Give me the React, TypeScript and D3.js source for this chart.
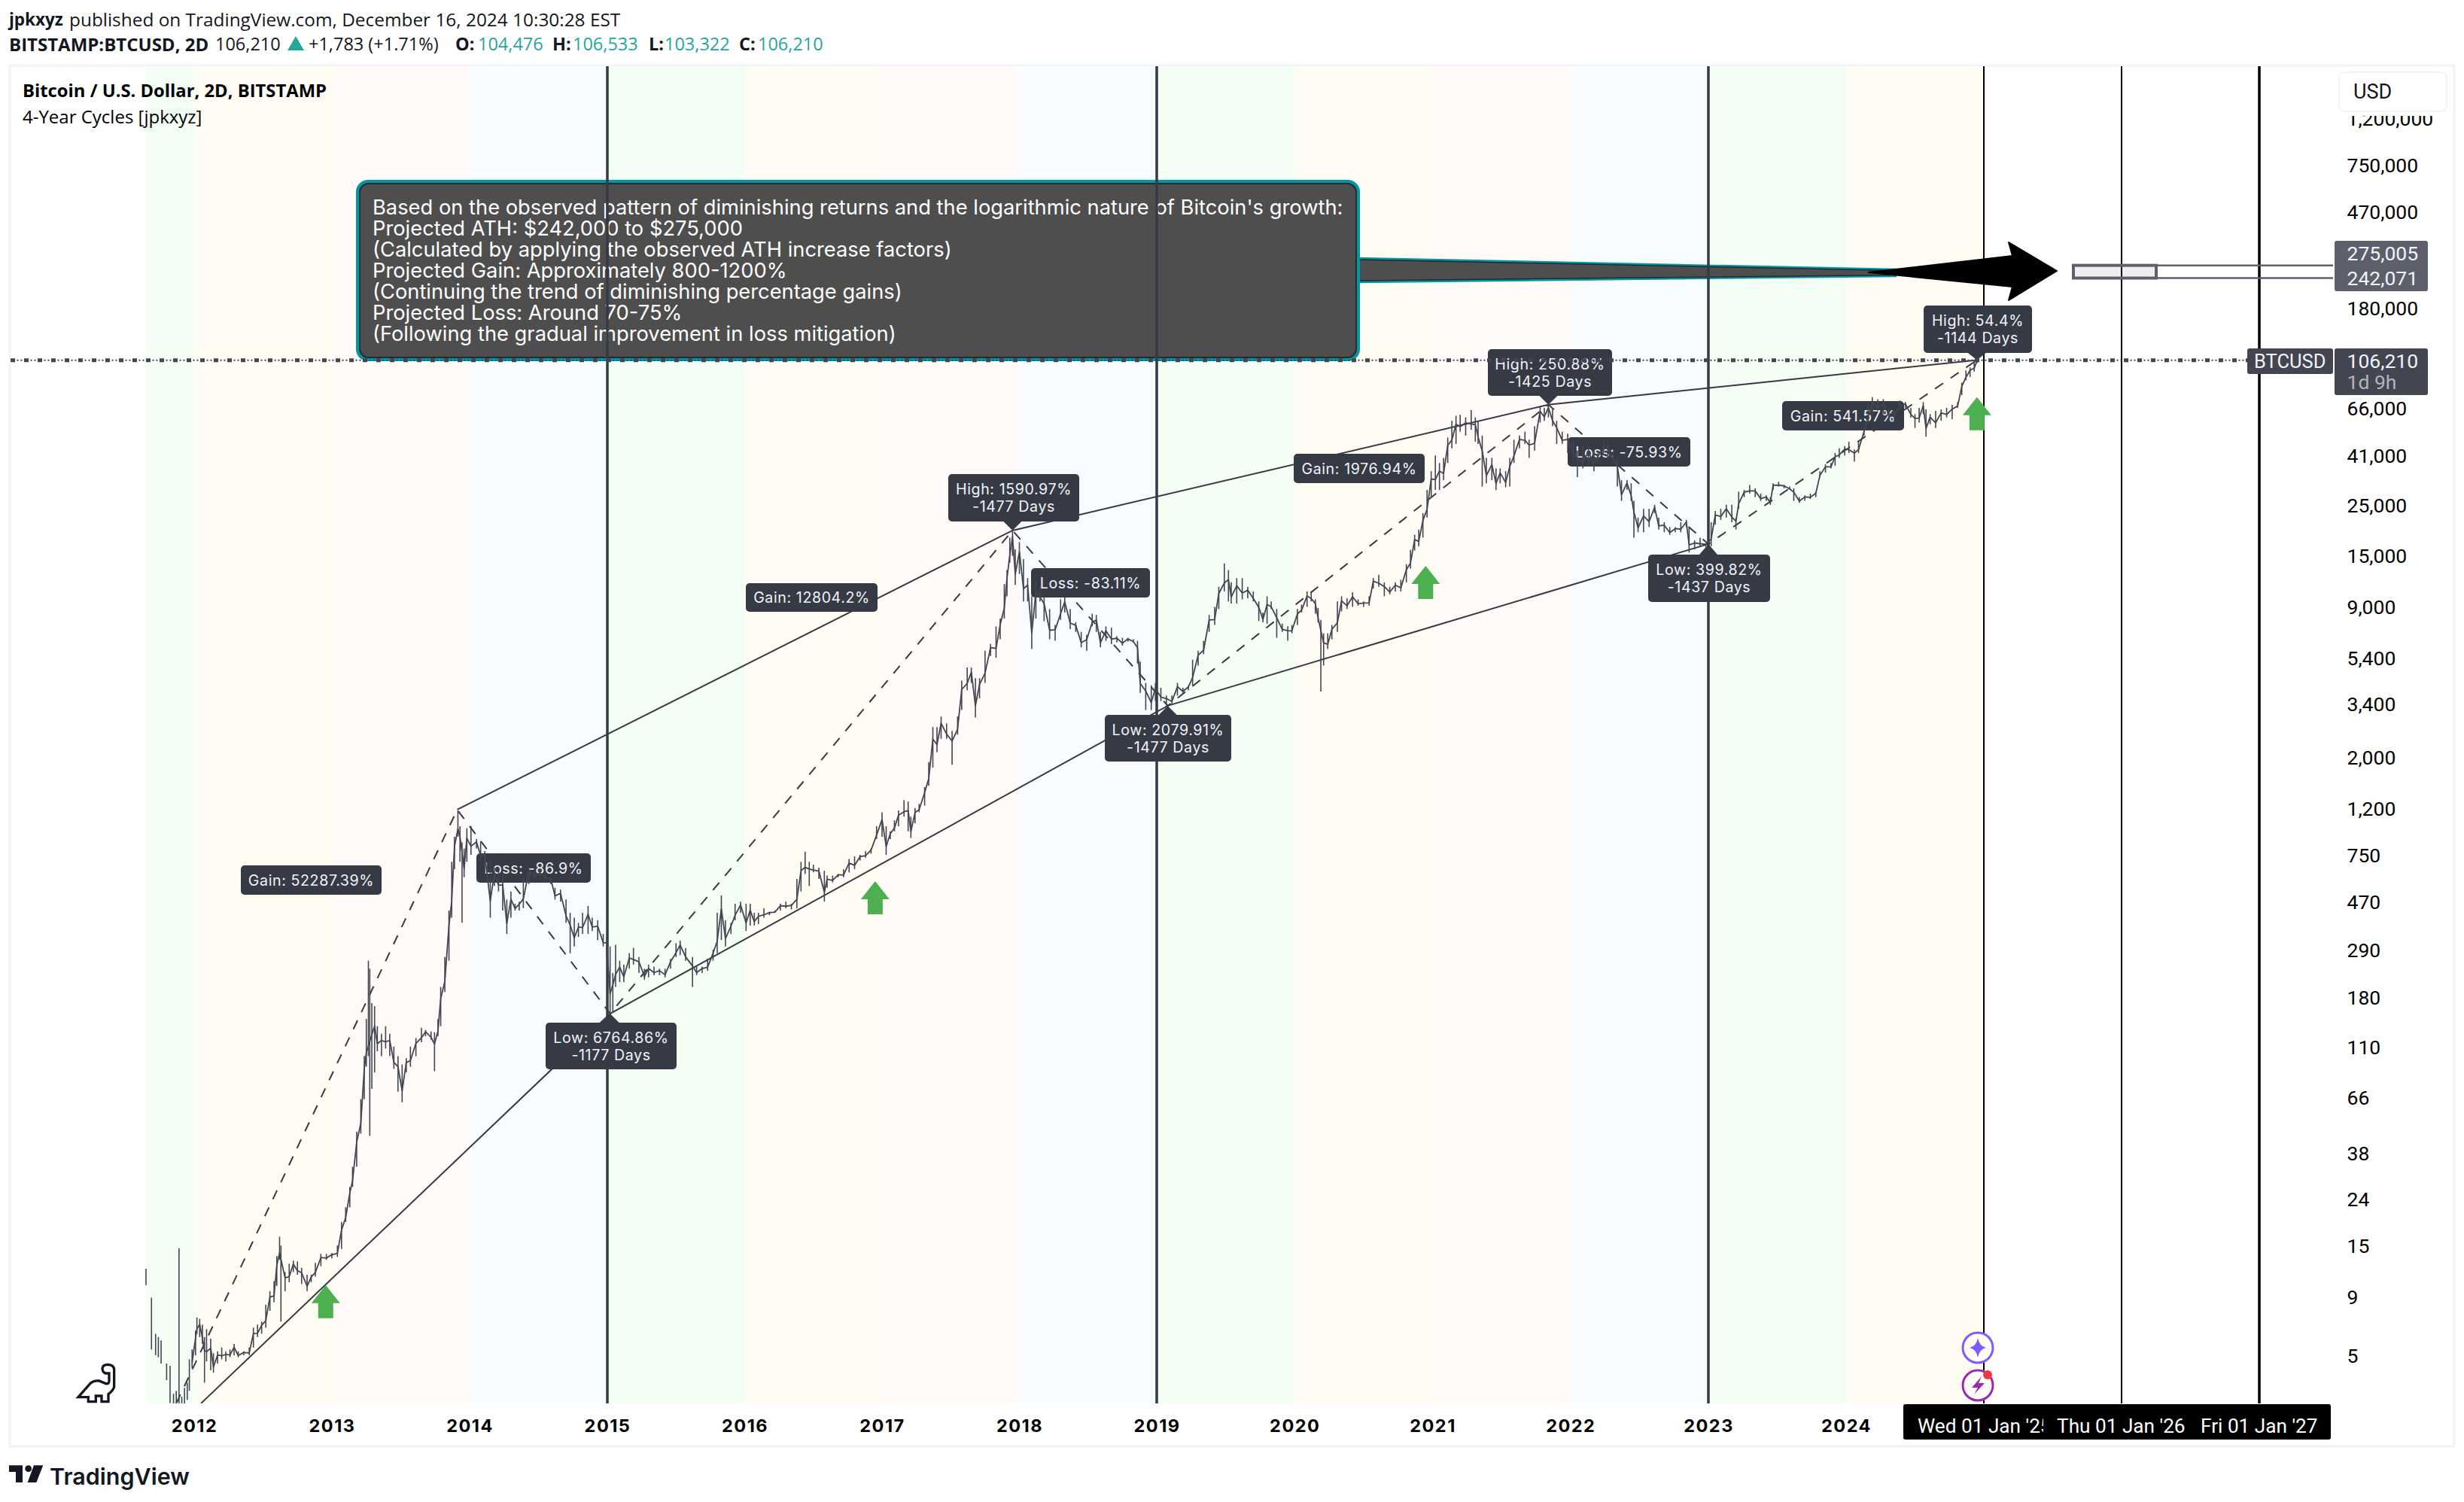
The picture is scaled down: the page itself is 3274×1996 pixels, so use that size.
import * as d3 from 'd3';
import { useEffect, useRef } from 'react';

// [decimal year, low, high]
const cycle2011: number[][] = [
  [2011.65,10.1,11.9],[2011.69,5.3,8.9],[2011.72,5.0,6.2],[2011.74,4.9,6.0],[2011.76,4.6,5.8],[2011.80,3.9,4.6],
  [2011.825,3.1,4.5],[2011.85,3.0,3.4],[2011.87,3.0,3.5],[2011.89,3.0,14.6],[2011.91,3.0,3.3],[2011.93,3.0,3.6],
  [2011.95,3.2,3.8],[2011.965,3.5,4.8],[2011.985,4.4,5.3],[2012.01,5.0,6.4],[2012.02,6.2,7.3],[2012.04,6.0,7.2],
  [2012.06,5.6,6.8],[2012.075,3.8,6.0],[2012.09,4.7,6.5],[2012.12,4.3,5.9],[2012.14,4.2,5.1],[2012.17,4.6,5.2],
  [2012.2,4.8,5.4],[2012.23,4.7,5.2],[2012.26,4.9,5.3],[2012.29,5.0,5.6],[2012.32,4.9,5.2],[2012.36,5.0,5.2],
  [2012.4,5.0,5.4],[2012.43,5.4,6.6],[2012.46,6.0,6.8],[2012.49,6.2,7.0],[2012.52,6.6,8.3],[2012.55,7.8,9.5],
  [2012.58,8.5,10.5],[2012.6,10,13.5],[2012.62,13,16.4],[2012.63,7,15],[2012.66,9.5,11.5],[2012.69,10.4,12.5],
  [2012.72,11.5,12.9],[2012.75,11.2,12.8],[2012.78,10.2,12],[2012.82,9.5,11.2],[2012.85,10.4,11.2],[2012.88,11,12.6],
  [2012.92,12.2,13.8],[2012.96,13,13.8],[2013.0,13.2,13.9],[2013.04,13.4,15],[2013.07,14.5,19],[2013.1,19,22],
  [2013.13,22,27],[2013.15,27,33],[2013.18,33,47],[2013.21,46,65],[2013.235,65,100],[2013.25,90,145],[2013.265,100,260],
  [2013.275,45,240],[2013.29,72,170],[2013.31,85,165],[2013.33,105,135],[2013.36,100,125],[2013.39,108,135],
  [2013.42,100,125],[2013.45,88,110],[2013.48,70,100],[2013.51,63,92],[2013.54,85,98],[2013.57,90,110],[2013.61,100,120],
  [2013.65,115,133],[2013.68,122,130],[2013.72,118,128],[2013.745,86,127],[2013.77,122,145],[2013.79,135,200],
  [2013.82,190,270],[2013.85,260,430],[2013.87,400,700],[2013.89,650,900],[2013.915,900,1170],[2013.93,700,1000],
  [2013.945,380,850],[2013.96,600,800],[2013.98,700,980],[2014.01,750,1000],[2014.05,800,880],[2014.08,700,860],
  [2014.11,680,780],[2014.15,400,700],[2014.18,550,660],[2014.21,520,640],[2014.24,430,620],[2014.27,340,480],
  [2014.30,400,520],[2014.33,430,460],[2014.36,430,470],[2014.39,440,600],[2014.43,560,670],[2014.47,590,640],
  [2014.51,580,650],[2014.55,580,630],[2014.59,560,600],[2014.62,480,540],[2014.66,470,530],[2014.7,380,480],
  [2014.73,280,420],[2014.76,300,400],[2014.79,330,380],[2014.82,340,420],[2014.86,340,450],[2014.89,350,400],
  [2014.93,320,390],[2014.97,300,340],[2014.995,270,330],
];

const cycle2015: number[][] = [
  [2015.02,152,300],[2015.04,155,230],[2015.06,200,305],[2015.09,210,260],[2015.12,210,250],[2015.16,240,280],
  [2015.19,250,296],[2015.23,230,270],[2015.27,215,240],[2015.3,220,250],[2015.34,225,245],[2015.38,225,240],
  [2015.42,220,240],[2015.46,240,265],[2015.5,270,310],[2015.53,275,318],[2015.57,260,295],[2015.62,200,270],
  [2015.65,225,245],[2015.69,230,245],[2015.73,235,265],[2015.77,260,290],[2015.8,280,420],[2015.83,320,500],
  [2015.86,300,390],[2015.9,340,380],[2015.93,390,460],[2015.97,420,470],[2016.01,350,460],[2016.04,370,460],
  [2016.07,370,420],[2016.1,375,420],[2016.14,400,440],[2016.18,410,425],[2016.22,420,430],[2016.26,430,460],
  [2016.3,440,470],[2016.34,435,460],[2016.38,440,590],[2016.41,520,700],[2016.44,620,775],[2016.47,550,700],
  [2016.5,630,680],[2016.54,590,660],[2016.58,470,640],[2016.6,540,610],[2016.64,570,610],[2016.68,600,620],
  [2016.72,600,650],[2016.76,630,720],[2016.8,650,740],[2016.84,710,750],[2016.88,730,780],[2016.92,760,800],
  [2016.96,880,1000],[2017.0,900,1150],[2017.03,750,1000],[2017.06,880,950],[2017.09,950,1060],[2017.12,1000,1170],
  [2017.16,1100,1300],[2017.19,950,1280],[2017.21,890,1100],[2017.24,1030,1200],[2017.27,1150,1250],[2017.31,1230,1480],
  [2017.34,1500,1900],[2017.37,1800,2700],[2017.4,2100,2700],[2017.43,2400,3000],[2017.47,2400,2800],[2017.51,1850,2600],
  [2017.55,2500,3000],[2017.58,3200,4300],[2017.62,3900,4900],[2017.65,4200,4900],[2017.68,2970,4400],[2017.71,3600,4400],
  [2017.75,4200,5800],[2017.79,5500,6200],[2017.83,5400,7400],[2017.86,6500,8000],[2017.89,8000,11300],[2017.91,10000,13000],
  [2017.93,14000,18000],[2017.95,15000,19660],[2017.97,11200,16000],[2018.0,12500,17200],[2018.03,9500,14500],
  [2018.06,9500,12000],[2018.09,5900,10000],[2018.12,8000,11700],[2018.15,9500,11000],[2018.18,7800,10000],
  [2018.22,6500,8800],[2018.26,6400,7500],[2018.3,7900,9700],[2018.33,8500,9900],[2018.37,7200,8800],[2018.41,7000,7700],
  [2018.45,6000,7000],[2018.49,5800,6800],[2018.53,7400,8400],[2018.56,7000,8300],[2018.59,6000,7000],[2018.63,6400,7400],
  [2018.67,6200,7300],[2018.71,6300,6700],[2018.75,6100,6600],[2018.79,6350,6600],[2018.83,6300,6500],[2018.86,5100,6400],
  [2018.88,3800,5200],[2018.92,3200,4200],[2018.96,3200,4100],
];

const cycle2019: number[][] = [
  [2018.99,3500,4200],[2019.03,3500,4000],[2019.07,3350,3700],[2019.11,3400,3700],[2019.15,3700,4200],[2019.19,3800,4000],
  [2019.23,3900,4100],[2019.26,4100,5300],[2019.3,5000,5800],[2019.34,5600,6400],[2019.38,7000,8300],[2019.42,7500,9000],
  [2019.45,8800,11000],[2019.49,10500,13900],[2019.52,9500,13000],[2019.54,9300,11500],[2019.58,9300,12000],
  [2019.62,9700,12000],[2019.66,9800,11000],[2019.7,9500,10500],[2019.74,7800,9500],[2019.77,7700,8500],[2019.8,7600,10000],
  [2019.83,8800,9500],[2019.87,6600,8800],[2019.91,7000,7600],[2019.95,6400,7400],[2019.98,6900,7500],[2020.02,7500,8800],
  [2020.05,8500,9200],[2020.09,9000,10500],[2020.12,9500,10500],[2020.15,8400,9700],[2020.17,7700,8900],[2020.19,3850,7900],
  [2020.21,5000,6900],[2020.24,5900,6900],[2020.27,6500,7500],[2020.31,7000,9500],[2020.34,8600,10000],[2020.38,8800,9800],
  [2020.42,9000,10400],[2020.46,9100,9700],[2020.5,9000,9500],[2020.54,9100,10000],[2020.57,10800,12000],[2020.61,11000,12400],
  [2020.65,10000,11500],[2020.69,10200,11000],[2020.73,10500,11500],[2020.77,10500,11800],[2020.81,11500,13800],
  [2020.84,13200,15900],[2020.87,15800,18500],[2020.9,16500,19500],[2020.93,18000,23000],[2020.96,22000,29000],
  [2020.99,27000,35000],[2021.02,29000,41000],[2021.05,29000,38000],[2021.08,32000,40000],[2021.11,38000,49000],
  [2021.14,44000,58000],[2021.17,46000,61000],[2021.2,52000,61500],[2021.24,50000,60000],[2021.28,53000,64500],
  [2021.31,47000,60000],[2021.33,46000,58000],[2021.36,30000,50000],[2021.39,31000,40000],[2021.43,32000,40000],
  [2021.46,29000,36000],[2021.49,31000,36000],[2021.53,29800,35000],[2021.56,30000,40000],[2021.59,38000,48000],
  [2021.63,44000,50000],[2021.67,46000,52000],[2021.7,40000,48000],[2021.74,43000,55000],[2021.78,57000,67000],
  [2021.81,58000,66000],[2021.84,60000,69000],[2021.87,55000,66000],[2021.9,46000,58000],[2021.94,46000,52000],
  [2021.98,42000,51000],[2022.02,40000,47000],[2022.05,33000,43000],[2022.09,36000,45000],[2022.13,37000,45000],
  [2022.17,35000,44000],[2022.2,38000,42000],[2022.24,42000,48000],[2022.27,39000,47000],[2022.31,38000,42000],
  [2022.34,30000,40000],[2022.37,26000,32000],[2022.41,29000,32000],[2022.44,26000,31000],[2022.46,18000,26000],
  [2022.49,19000,22000],[2022.53,19000,24000],[2022.57,20000,24000],[2022.61,23000,25000],[2022.64,19500,22000],
  [2022.68,19000,21000],[2022.72,18500,20000],[2022.76,19000,20000],[2022.8,19000,21000],[2022.84,20000,21500],
  [2022.86,15500,20000],[2022.9,16000,17500],[2022.94,16500,18000],[2022.98,16400,17000],
];

const cycle2023: number[][] = [
  [2023.02,16500,21000],[2023.05,20500,23500],[2023.09,21500,24000],[2023.13,22000,25000],[2023.17,21000,25000],
  [2023.2,19500,22000],[2023.22,24000,28500],[2023.26,27000,29000],[2023.3,28000,30500],[2023.34,27000,29500],
  [2023.38,26000,28000],[2023.42,26000,27500],[2023.45,25000,27000],[2023.47,29000,31000],[2023.51,30000,31500],
  [2023.55,29500,30500],[2023.59,29000,30000],[2023.62,26000,29500],[2023.66,25500,27000],[2023.7,26000,27500],
  [2023.74,26500,28000],[2023.78,27000,28500],[2023.81,33000,35000],[2023.85,34500,37500],[2023.89,36000,38000],
  [2023.92,37000,42000],[2023.95,40000,44000],[2023.99,41000,45000],[2024.02,42000,47000],[2024.06,38500,43500],
  [2024.09,42000,47000],[2024.13,50000,53000],[2024.16,57000,69000],[2024.19,61000,73500],[2024.23,64000,72000],
  [2024.27,62000,72000],[2024.31,60000,66000],[2024.35,57000,65000],[2024.39,65000,71000],[2024.43,66000,70000],
  [2024.47,60000,66000],[2024.5,54000,62000],[2024.53,57000,66000],[2024.56,62000,70000],[2024.58,49500,65000],
  [2024.61,56000,62000],[2024.65,54000,64000],[2024.69,58000,65000],[2024.73,60000,66000],[2024.77,59000,68000],
  [2024.81,66000,70000],[2024.84,75000,85000],[2024.87,87000,96000],[2024.9,90000,99000],[2024.93,95000,106000],
  [2024.95,103322,106533],
];

// cycle pivots, in order low, high, low, ... along the dashed path
const pivotDates = [2011.87, 2013.91, 2015.02, 2017.95, 2019.08, 2021.84, 2023.0, 2024.95];
const pivotPrices = [3.09, 1180, 153, 19330, 3341, 68100, 16884, 106533];
const lowTrendDates = [2012.05, 2015.02, 2019.08, 2023.0];
const lowTrendPrices = [3.09, 153, 3341, 16884];
const highTrendDates = [2013.91, 2017.95, 2021.84, 2024.95];
const highTrendPrices = [1180, 19330, 68100, 106533];

const signalDates = [2012.955, 2016.95, 2020.95, 2024.95];
const signalPrices = [10.1, 577, 13570, 73500];

const bandYears = [2011.65, 2012, 2013, 2014, 2015, 2016, 2017, 2018, 2019, 2020, 2021, 2022, 2023, 2024];
const bandColors = ['#f3fef5', '#fffdf3', '#fffaf8', '#f9fcff'];
const cycleYears = [2015, 2019, 2023];
const futureYears = [2025, 2026, 2027];
const axisYears = [2012, 2013, 2014, 2015, 2016, 2017, 2018, 2019, 2020, 2021, 2022, 2023, 2024];
const priceTicks = [1200000, 750000, 470000, 180000, 66000, 41000, 25000, 15000, 9000, 5400, 3400, 2000, 1200, 750, 470, 290, 180, 110, 66, 38, 24, 15, 9, 5];

const lastPrice = 106210;
const targetHigh = 275005;
const targetLow = 242071;

const noteLines = [
  "Based on the observed pattern of diminishing returns and the logarithmic nature of Bitcoin's growth:",
  'Projected ATH: $242,000 to $275,000',
  '(Calculated by applying the observed ATH increase factors)',
  'Projected Gain: Approximately 800-1200%',
  '(Continuing the trend of diminishing percentage gains)',
  'Projected Loss: Around 70-75%',
  '(Following the gradual improvement in loss mitigation)',
];

const labelLines = [
  ['Gain: 52287.39%'], ['Loss: -86.9%'], ['Low: 6764.86%', '-1177 Days'],
  ['Gain: 12804.2%'], ['High: 1590.97%', '-1477 Days'], ['Loss: -83.11%'], ['Low: 2079.91%', '-1477 Days'],
  ['Gain: 1976.94%'], ['High: 250.88%', '-1425 Days'], ['Loss: -75.93%'], ['Low: 399.82%', '-1437 Days'],
  ['Gain: 541.57%'], ['High: 54.4%', '-1144 Days'],
];
// x0, y0, x1, y1 of each label, then the index of the pivot its pointer sits on
const labelBoxes = [
  [320, 1150, 507, 1189], [633, 1134, 785, 1173], [725, 1359, 899, 1421],
  [991, 775, 1166, 813], [1260, 630, 1434, 693], [1370, 755, 1528, 794], [1468, 950, 1636, 1012],
  [1719, 603, 1893, 642], [1977, 464, 2142, 526], [2083, 581, 2246, 620], [2190, 737, 2352, 800],
  [2368, 533, 2530, 572], [2556, 406, 2700, 469],
];
const labelPivots = [-1, -1, 2, -1, 3, -1, 4, -1, 5, -1, 6, -1, 7];

const INK = '#363a45';
const BAR = '#434651';
const UI = '"Open Sans", sans-serif';
const LABEL = 'Inter, sans-serif';
const AXIS = 'Roboto, sans-serif';

function BtcCycles() {
  const ref = useRef<SVGSVGElement | null>(null);

  useEffect(() => {
    if (!ref.current) return;
    const svg = d3.select(ref.current);
    svg.selectAll('*').remove();

    const x = d3.scaleLinear()
      .domain([2012, 2015, 2019, 2023, 2025, 2026, 2027])
      .range([258, 807, 1537, 2270, 2636, 2819, 3002]);
    const y = d3.scaleLog().domain([5, 66000]).range([1801, 542]);

    const plotTop = 88, plotBottom = 1865, plotRight = 3100;

    const text = (g: any, px: number, py: number, s: string, size: number, fill = '#131722', weight = 400, family = UI, anchor = 'start') =>
      g.append('text').attr('x', px).attr('y', py).attr('dominant-baseline', 'central')
        .attr('font-family', family).attr('font-size', size).attr('font-weight', weight)
        .attr('fill', fill).attr('text-anchor', anchor).text(s);

    svg.append('rect').attr('width', 3274).attr('height', 1996).attr('fill', '#ffffff');

    const defs = svg.append('defs');
    defs.append('clipPath').attr('id', 'plot').append('rect')
      .attr('x', 14).attr('y', plotTop).attr('width', plotRight - 14).attr('height', plotBottom - plotTop);
    defs.append('clipPath').attr('id', 'firstDate').append('rect')
      .attr('x', 2529).attr('y', 1866).attr('width', 186).attr('height', 47);

    // header
    text(svg, 12, 25, 'jpkxyz', 22.5, '#131722', 700);
    text(svg, 92, 25, 'published on TradingView.com, December 16, 2024 10:30:28 EST', 24.4, '#131722');
    text(svg, 12, 58, 'BITSTAMP:BTCUSD, 2D', 24, '#131722', 700);
    text(svg, 286, 58, '106,210', 23.5);
    svg.append('path').attr('d', 'M393 48L404 67H382Z').attr('fill', '#26a69a');
    text(svg, 410, 58, '+1,783 (+1.71%)', 23.5);
    const ohlc: [number, string, number, string][] = [[605, 'O:', 635, '104,476'], [734, 'H:', 761, '106,533'], [862, 'L:', 883, '103,322'], [982, 'C:', 1007, '106,210']];
    ohlc.forEach(([a, k, b, v]) => {
      text(svg, a, 58, k, 23.5, '#131722', 700);
      text(svg, b, 58, v, 23.5, '#26a69a');
    });

    // panel frame
    svg.append('rect').attr('x', 13).attr('y', 87).attr('width', 3248).attr('height', 1835)
      .attr('fill', 'none').attr('stroke', '#f0f3fa').attr('stroke-width', 3);

    // yearly colour bands
    const chart = svg.append('g').attr('clip-path', 'url(#plot)');
    chart.append('g').selectAll('rect').data(bandYears).join('rect')
      .attr('x', d => x(d))
      .attr('width', (d, i) => x(i + 1 < bandYears.length ? bandYears[i + 1] : 2025) - x(d))
      .attr('y', plotTop).attr('height', plotBottom - plotTop)
      .attr('fill', (d, i) => bandColors[i % 4]);

    // projection callout with its long tail
    const noteFill = '#363636';
    chart.append('path').attr('d', 'M1805 343L2520 358V367L1805 375Z').attr('fill', noteFill).attr('fill-opacity', 0.88);
    chart.append('path').attr('d', 'M1805 343L2520 358M1805 375L2520 367').attr('fill', 'none').attr('stroke', '#0097a7').attr('stroke-width', 2.5);
    chart.append('path').attr('d', 'M1805 345L2520 359.5M1805 373L2520 365.5').attr('fill', 'none').attr('stroke', '#1f2d30').attr('stroke-width', 1.5);
    chart.append('rect').attr('x', 475).attr('y', 241).attr('width', 1330).attr('height', 237).attr('rx', 14)
      .attr('fill', noteFill).attr('fill-opacity', 0.88).attr('stroke', '#0097a7').attr('stroke-width', 4);
    chart.append('rect').attr('x', 478).attr('y', 244).attr('width', 1324).attr('height', 231).attr('rx', 12)
      .attr('fill', 'none').attr('stroke', '#1f2d30').attr('stroke-width', 2);
    noteLines.forEach((l, i) => {
      text(chart, 495, 275 + i * 28, l, 27.3, '#ffffff', 400, LABEL);
    });

    // cycle and projection verticals
    chart.append('g').selectAll('line').data(cycleYears).join('line')
      .attr('x1', d => x(d)).attr('x2', d => x(d)).attr('y1', plotTop).attr('y2', plotBottom)
      .attr('stroke', INK).attr('stroke-width', 3.5);
    chart.append('g').selectAll('line').data(futureYears).join('line')
      .attr('x1', d => x(d)).attr('x2', d => x(d)).attr('y1', plotTop).attr('y2', plotBottom)
      .attr('stroke', '#000000').attr('stroke-width', (d, i) => i === 2 ? 3.5 : 2);

    // target range
    const yHigh = y(targetHigh), yLow = y(targetLow);
    [yHigh, yLow].forEach(v => {
      chart.append('line').attr('x1', 2865).attr('x2', 3100).attr('y1', v).attr('y2', v)
        .attr('stroke', '#5d606b').attr('stroke-width', 2.5);
    });
    chart.append('rect').attr('x', 2755).attr('y', yHigh).attr('width', 110).attr('height', yLow - yHigh)
      .attr('fill', '#787b86').attr('fill-opacity', 0.13).attr('stroke', '#5d606b').attr('stroke-width', 4);

    // black arrow
    chart.append('path').attr('d', 'M2733 360L2669 322L2674 340L2483 362L2674 381L2669 399Z').attr('fill', '#000000')
      .attr('stroke', '#000000').attr('stroke-linejoin', 'round').attr('stroke-width', 2);

    // trend lines
    const through = (ds: number[], ps: number[]) =>
      d3.line<number>().x(d => x(d)).y((d, i) => y(ps[i]))(ds) as string;
    chart.append('path').attr('d', through(lowTrendDates, lowTrendPrices)).attr('fill', 'none').attr('stroke', INK).attr('stroke-width', 2);
    chart.append('path').attr('d', through(highTrendDates, highTrendPrices)).attr('fill', 'none').attr('stroke', INK).attr('stroke-width', 2);
    chart.append('path').attr('d', through(pivotDates, pivotPrices)).attr('fill', 'none').attr('stroke', INK)
      .attr('stroke-width', 2).attr('stroke-dasharray', '13 12');

    // labels sit under the bars
    labelLines.forEach((lines, i) => {
      const [x0, y0, x1, y1] = labelBoxes[i];
      const g = chart.append('g');
      g.append('rect').attr('x', x0).attr('y', y0).attr('width', x1 - x0).attr('height', y1 - y0).attr('rx', 5).attr('fill', INK);
      const p = labelPivots[i];
      if (p >= 0) {
        const tx = x(pivotDates[p]), ty = y(pivotPrices[p]);
        const edge = ty > y1 ? y1 : y0;
        g.append('path').attr('d', `M${tx - 12} ${edge}L${tx} ${ty}L${tx + 12} ${edge}Z`).attr('fill', INK);
      }
      const cx = (x0 + x1) / 2, cy = (y0 + y1) / 2;
      lines.forEach((l, k) => {
        const off = lines.length === 2 ? (k === 0 ? -11.5 : 11.5) : 0;
        text(g, cx, cy + off, l, 19.6, '#f0f3fa', 400, LABEL, 'middle').attr('letter-spacing', 0.6);
      });
    });

    // price bars: a low-high tick per row plus a jagged stroke stepping between the rows
    const allBars = [...cycle2011, ...cycle2015, ...cycle2019, ...cycle2023];
    chart.append('g').selectAll('line').data(allBars).join('line')
      .attr('x1', d => x(d[0])).attr('x2', d => x(d[0]))
      .attr('y1', d => y(d[1])).attr('y2', d => y(d[2]))
      .attr('stroke', BAR).attr('stroke-width', 1.6);
    const spine = allBars.filter(d => d[0] > 2011.98 && d[2] / d[1] < 2);
    chart.append('path')
      .attr('d', d3.line<number[]>().x(d => x(d[0]))
        .y((d, i) => {
          const w = i % 2 === 0 ? 0.3 : 0.7;
          return y(Math.pow(d[1], 1 - w) * Math.pow(d[2], w));
        })(spine) as string)
      .attr('fill', 'none').attr('stroke', BAR).attr('stroke-width', 1.8).attr('stroke-linejoin', 'round');

    // last price line: square beads with two small dots between them
    chart.append('line').attr('x1', 14).attr('x2', 2986).attr('y1', y(lastPrice)).attr('y2', y(lastPrice))
      .attr('stroke', BAR).attr('stroke-width', 5).attr('stroke-dasharray', '6 12');
    chart.append('line').attr('x1', 14).attr('x2', 2986).attr('y1', y(lastPrice)).attr('y2', y(lastPrice))
      .attr('stroke', BAR).attr('stroke-width', 2).attr('stroke-dasharray', '2 3 2 11').attr('stroke-dashoffset', -8.5);

    // green signals
    chart.append('g').selectAll('path').data(signalDates).join('path')
      .attr('transform', (d, i) => `translate(${x(d)},${y(signalPrices[i])})`)
      .attr('d', 'M0 0L19 24H10V44H-10V24H-19Z').attr('fill', '#4caf50');

    // assistant icons
    const icons = svg.append('g');
    icons.append('circle').attr('cx', 2628).attr('cy', 1791).attr('r', 20).attr('fill', '#fffef8').attr('stroke', '#7b5cff').attr('stroke-width', 3);
    icons.append('path').attr('d', 'M2628 1778Q2630 1789 2639 1791Q2630 1793 2628 1804Q2626 1793 2617 1791Q2626 1789 2628 1778Z').attr('fill', '#7b5cff');
    icons.append('circle').attr('cx', 2628).attr('cy', 1841).attr('r', 20).attr('fill', '#fffef8').attr('stroke', '#9c27b0').attr('stroke-width', 3);
    icons.append('path').attr('d', 'M2633 1829L2620 1844H2628L2623 1853L2637 1838H2629Z').attr('fill', '#9c27b0');
    icons.append('circle').attr('cx', 2641).attr('cy', 1827).attr('r', 6).attr('fill', '#f23645');

    // dino
    const brand = svg.append('g').attr('transform', 'translate(0,1700) scale(0.3333)');
    brand.append('path')
      .attr('d', 'M312 470L360 415Q375 402 395 405L420 415Q435 420 435 405L435 375L420 375Q408 370 408 355Q410 340 430 340Q455 342 455 360L455 430Q450 445 432 458L432 488L405 488L405 465L382 465L382 488L352 488L352 470Z')
      .attr('fill', 'none').attr('stroke', '#131722').attr('stroke-width', 10);
    // logo
    brand.append('path').attr('d', 'M36 742H90V810H63V768H36Z').attr('fill', '#131722');
    brand.append('circle').attr('cx', 113).attr('cy', 755).attr('r', 13).attr('fill', '#131722');
    brand.append('path').attr('d', 'M135 742H172L145 810H110Z').attr('fill', '#131722');
    text(svg, 66, 1961, 'TradingView', 30.5, '#131722', 600, 'Inter, sans-serif');

    // legend
    text(svg, 30, 120, 'Bitcoin / U.S. Dollar, 2D, BITSTAMP', 23.8, '#000000', 700);
    text(svg, 30, 154, '4-Year Cycles [jpkxyz]', 24, '#000000');

    // price axis
    const yAxis = d3.axisRight(y).tickValues(priceTicks).tickFormat(d3.format(',') as any).tickSize(0);
    const yg = svg.append('g').attr('transform', 'translate(3118.5,0)').call(yAxis as any);
    yg.select('.domain').remove();
    yg.selectAll('text').attr('x', 0).attr('dy', '.35em').attr('font-family', AXIS)
      .attr('font-size', 26.5).attr('fill', '#000000');

    // the currency button hides the top of the highest tick
    const usd = svg.append('g');
    usd.append('rect').attr('x', 3106).attr('y', 94).attr('width', 147).attr('height', 60).attr('fill', '#ffffff');
    usd.append('rect').attr('x', 3108).attr('y', 96).attr('width', 143).attr('height', 52).attr('rx', 8)
      .attr('fill', '#ffffff').attr('stroke', '#f0f3fa').attr('stroke-width', 2);
    text(usd, 3127, 122, 'USD', 27, '#131722', 400, AXIS);

    // price tags
    const tags = svg.append('g');
    tags.append('rect').attr('x', 3102).attr('y', 320).attr('width', 124).attr('height', 36).attr('rx', 3).attr('fill', '#5d606b');
    tags.append('rect').attr('x', 3102).attr('y', 353).attr('width', 124).attr('height', 34).attr('rx', 3).attr('fill', '#5d606b');
    text(tags, 3118.5, 336, d3.format(',')(targetHigh), 26.5, '#f0f3fa', 400, AXIS);
    text(tags, 3118.5, 369, d3.format(',')(targetLow), 26.5, '#f0f3fa', 400, AXIS);
    tags.append('rect').attr('x', 2986).attr('y', 463).attr('width', 114).attr('height', 34).attr('rx', 3).attr('fill', BAR);
    text(tags, 2995, 480, 'BTCUSD', 25.5, '#f0f3fa', 400, AXIS);
    tags.append('rect').attr('x', 3102).attr('y', 463).attr('width', 124).attr('height', 62).attr('rx', 3).attr('fill', BAR);
    text(tags, 3118.5, 479, d3.format(',')(lastPrice), 26.5, '#f0f3fa', 400, AXIS);
    text(tags, 3118.5, 507, '1d 9h', 26.5, '#b2b5be', 400, AXIS);

    // time axis
    const xAxis = d3.axisBottom(x).tickValues(axisYears).tickFormat(d3.format('d') as any).tickSize(0);
    const xg = svg.append('g').attr('transform', `translate(0,${plotBottom})`).call(xAxis as any);
    xg.select('.domain').remove();
    xg.selectAll('text').attr('y', 30).attr('dy', '.35em').attr('font-family', 'Inter, sans-serif')
      .attr('font-size', 23.5).attr('font-weight', 700).attr('letter-spacing', 1.5).attr('fill', '#000000');

    // date flags
    svg.append('rect').attr('x', 2529).attr('y', 1866).attr('width', 568).attr('height', 47).attr('rx', 3).attr('fill', '#000000');
    text(svg.append('g').attr('clip-path', 'url(#firstDate)'), 2548, 1895, "Wed 01 Jan '25", 26.2, '#ffffff', 400, AXIS);
    text(svg, 2733, 1895, "Thu 01 Jan '26", 26.2, '#ffffff', 400, AXIS);
    text(svg, 2924, 1895, "Fri 01 Jan '27", 26.2, '#ffffff', 400, AXIS);
  }, []);

  return <svg ref={ref} width={3274} height={1996} style={{ position: 'absolute', left: 0, top: 0 }} />;
}

export default function App() {
  return <BtcCycles />;
}
